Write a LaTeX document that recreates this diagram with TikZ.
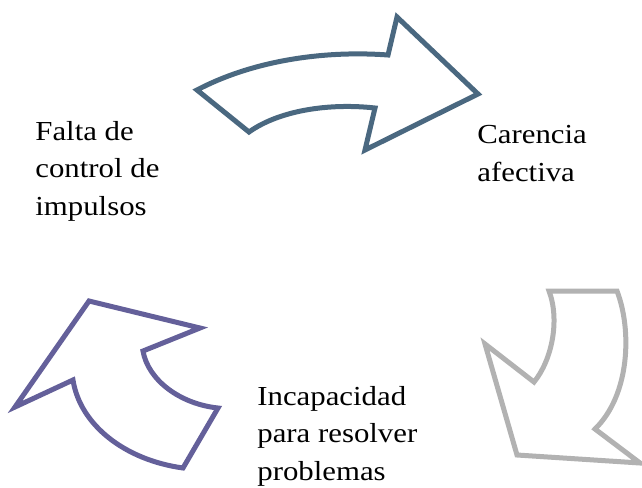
\documentclass[tikz,border=0pt]{standalone}
\usepackage{fontspec}
\setmainfont[FakeStretch=1.12]{Liberation Serif}
\definecolor{arrowblue}{HTML}{4A6880}
\definecolor{arrowpurple}{HTML}{64609A}
\definecolor{arrowgray}{HTML}{B2B2B2}
\tikzset{
  cyclearrow/.style={line width=2.5pt, line join=miter, fill=white},
  cyclelabel/.style={anchor=base west, align=left, inner sep=0pt,
    font={\fontsize{13.75}{18.8}\selectfont}}
}
\begin{document}
\begin{tikzpicture}[x=0.5pt,y=-0.5pt]
    \useasboundingbox (0,0) rectangle (642,487);
    % top arrow
    \draw[cyclearrow, draw=arrowblue] (197,90) .. controls (250,62) and (320,50) .. (388,55)
        -- (397,17) -- (478,94) -- (365,150) -- (375,108)
        .. controls (330,103) and (280,110) .. (249,132) -- cycle;
    % right arrow
    \draw[cyclearrow, draw=arrowgray] (549,291) -- (617,291)
        .. controls (632,330) and (630,395) .. (595,429)
        -- (640,463) -- (517,455) -- (485,344) -- (534,382)
        .. controls (552,360) and (560,320) .. (549,291) -- cycle;
    % left arrow
    \draw[cyclearrow, draw=arrowpurple] (89,301) -- (200,328) -- (143,351)
        .. controls (148,380) and (180,404) .. (218,408)
        -- (183,468) .. controls (125,460) and (80,425) .. (73,380)
        -- (15,407) -- cycle;
    % labels (base = last line)
    \node[cyclelabel] (falta) at (35,215.5) {Falta de\\control de\\impulsos};
    \node[cyclelabel] (carencia) at (477,181.5) {Carencia\\afectiva};
    \node[cyclelabel] (incapacidad) at (257,480.5) {Incapacidad\\para resolver\\problemas};
\end{tikzpicture}
\end{document}
